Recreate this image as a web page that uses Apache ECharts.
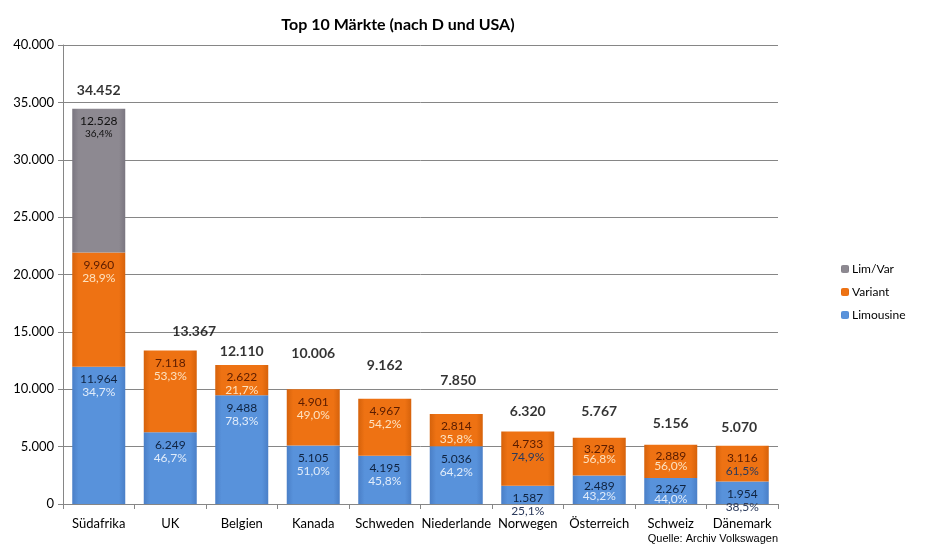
<!DOCTYPE html>
<html>
<head>
    <meta charset="utf-8">
    <title>Top 10 Märkte</title>
    <script src="https://cdn.jsdelivr.net/npm/echarts@6/dist/echarts.min.js"></script>
    <style>
        html, body { margin: 0; padding: 0; background: #fff; }
        #chart { width: 930px; height: 548px; }
    </style>
</head>
<body>
    <div id="chart"></div>
    <script type="text/javascript">
        // ---------- Daten ----------
        var categories = ['Südafrika', 'UK', 'Belgien', 'Kanada', 'Schweden', 'Niederlande', 'Norwegen', 'Österreich', 'Schweiz', 'Dänemark'];
        var limousine = [11964, 6249, 9488, 5105, 4195, 5036, 1587, 2489, 2267, 1954];
        var limousinePct = ['34,7%', '46,7%', '78,3%', '51,0%', '45,8%', '64,2%', '25,1%', '43,2%', '44,0%', '38,5%'];
        var variant = [9960, 7118, 2622, 4901, 4967, 2814, 4733, 3278, 2889, 3116];
        var variantPct = ['28,9%', '53,3%', '21,7%', '49,0%', '54,2%', '35,8%', '74,9%', '56,8%', '56,0%', '61,5%'];
        var limVar = [12528, null, null, null, null, null, null, null, null, null];
        var limVarPct = ['36,4%', null, null, null, null, null, null, null, null, null];
        var totals = [34452, 13367, 12110, 10006, 9162, 7850, 6320, 5767, 5156, 5070];
        var yTicks = [0, 5000, 10000, 15000, 20000, 25000, 30000, 35000, 40000];

        // ---------- Stil ----------
        var FONT = 'Lato, "Open Sans", sans-serif';
        // Abstand der Summen-Beschriftung ueber dem Balken (wie im Original von Hand versetzt)
        var totalDist = [11, 12, 7, 29, 26, 26, 13, 19, 14, 11];
        var totalShiftX = [0, 24, 0, 0, 0, 2, 0, 0, 0, -3];
        // Prozent unterhalb der Achse (dunkel statt hell)
        var pctOutside = [false, false, false, false, false, false, true, false, false, true];
        var pctTight = [false, false, false, false, false, false, false, true, true, false];

        function fmt(v) {
            return String(v).replace(/\B(?=(\d{3})+(?!\d))/g, '.');
        }

        function barGradient(edge, mid) {
            return {
                type: 'linear', x: 0, y: 0, x2: 1, y2: 0,
                colorStops: [
                    { offset: 0, color: edge },
                    { offset: 0.12, color: mid },
                    { offset: 0.88, color: mid },
                    { offset: 1, color: edge }
                ]
            };
        }

        function segData(values, pcts, valColor, pctColor, pctSize) {
            return values.map(function (v, i) {
                if (v == null) return '-';
                var pc = pctOutside[i] ? '#2b3a5c' : pctColor;
                var lh = pctTight[i] ? 10 : 13;
                return {
                    value: v,
                    label: {
                        show: true,
                        position: 'insideTop',
                        distance: 6,
                        formatter: '{v|' + fmt(v) + '}\n{p|' + pcts[i] + '}',
                        rich: {
                            v: { color: valColor, fontSize: 12, fontFamily: FONT, lineHeight: lh },
                            p: { color: pc, fontSize: pctSize, fontFamily: FONT, lineHeight: lh }
                        }
                    }
                };
            });
        }

        var totalData = totals.map(function (t, i) {
            return {
                value: t,
                label: { distance: totalDist[i], offset: [totalShiftX[i], 0] }
            };
        });

        var chart = echarts.init(document.getElementById('chart'));
        var option = {
            backgroundColor: '#ffffff',
            animation: false,
            textStyle: { fontFamily: FONT },
            title: {
                text: 'Top 10 Märkte (nach D und USA)',
                left: 393,
                top: 12,
                textAlign: 'center',
                textStyle: { fontSize: 16, fontWeight: 'bold', color: '#000', fontFamily: FONT }
            },
            graphic: [{
                type: 'text',
                right: 152,
                top: 533,
                style: { text: 'Quelle: Archiv Volkswagen', fontSize: 11, fill: '#000', fontFamily: 'Liberation Sans, Arial, sans-serif', textAlign: 'right' }
            }],
            legend: {
                data: ['Lim/Var', 'Variant', 'Limousine'],
                orient: 'vertical',
                left: 836,
                top: 258,
                itemWidth: 8,
                itemHeight: 8,
                itemGap: 11,
                textStyle: { fontSize: 12, color: '#000', fontFamily: FONT, padding: [0, 0, 0, -2] }
            },
            grid: { left: 63, right: 152, top: 45, bottom: 44 },
            xAxis: {
                type: 'category',
                data: categories,
                axisLine: { lineStyle: { color: '#868686' } },
                axisTick: { show: true, alignWithLabel: false, length: 5, lineStyle: { color: '#868686' } },
                axisLabel: { color: '#000', fontSize: 13, margin: 13, interval: 0, fontFamily: FONT }
            },
            yAxis: {
                type: 'value',
                min: yTicks[0],
                max: yTicks[yTicks.length - 1],
                interval: yTicks[1] - yTicks[0],
                axisLine: { show: true, lineStyle: { color: '#868686' } },
                axisTick: { show: true, length: 5, lineStyle: { color: '#868686' } },
                axisLabel: { color: '#000', fontSize: 13, margin: 9, fontFamily: FONT, formatter: function (v) { return fmt(v); } },
                splitLine: { lineStyle: { color: '#868686', width: 1 } }
            },
            series: [
                {
                    name: 'Limousine',
                    type: 'bar',
                    stack: 'm',
                    barWidth: 53,
                    itemStyle: { color: barGradient('#4a7fc7', '#5892db') },
                    data: segData(limousine, limousinePct, '#0f2340', '#e1ecfa', 12)
                },
                {
                    name: 'Variant',
                    type: 'bar',
                    stack: 'm',
                    barWidth: 53,
                    itemStyle: { color: barGradient('#d6620b', '#ee7213') },
                    data: segData(variant, variantPct, '#5a1c00', '#fde2c0', 12)
                },
                {
                    name: 'Lim/Var',
                    type: 'bar',
                    stack: 'm',
                    barWidth: 53,
                    itemStyle: { color: barGradient('#7a7680', '#8d8991') },
                    data: segData(limVar, limVarPct, '#111111', '#111111', 10)
                },
                {
                    name: 'Summe',
                    type: 'scatter',
                    symbolSize: 0,
                    silent: true,
                    label: {
                        show: true,
                        position: 'top',
                        color: '#000',
                        fontSize: 14,
                        fontWeight: 'bold',
                        fontFamily: FONT,
                        formatter: function (p) { return fmt(p.value); }
                    },
                    data: totalData
                }
            ]
        };
        chart.setOption(option);
    </script>
</body>
</html>
